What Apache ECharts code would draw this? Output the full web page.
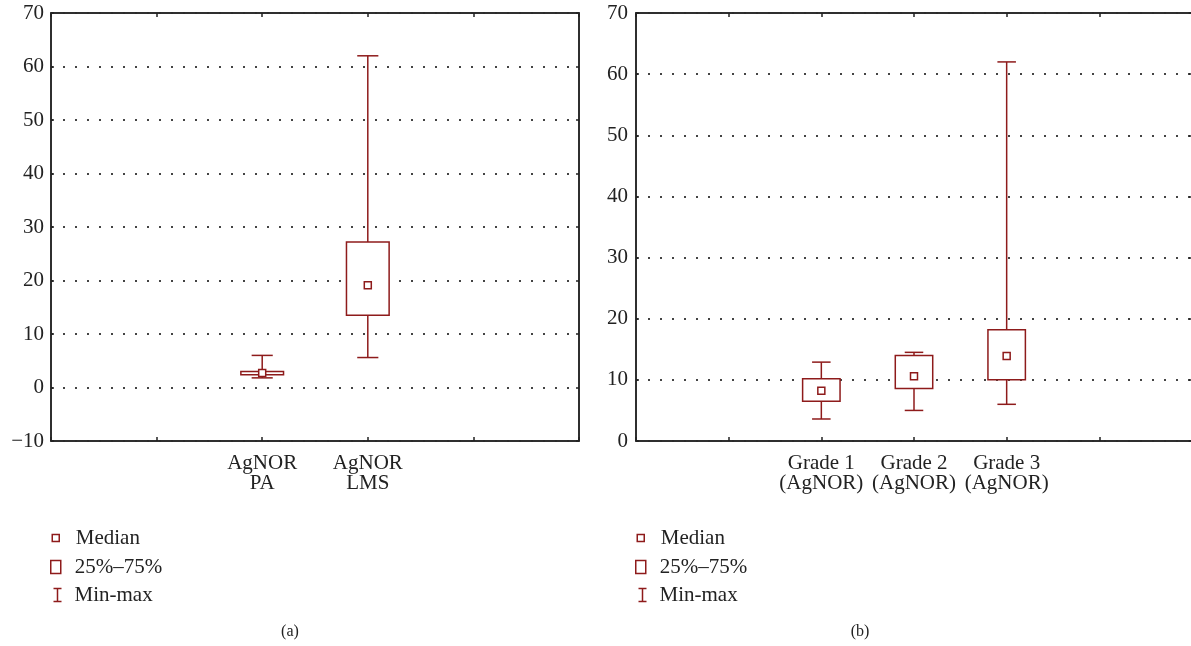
<!DOCTYPE html>
<html><head><meta charset="utf-8">
<script src="https://cdn.jsdelivr.net/npm/echarts@6/dist/echarts.min.js"></script>
<style>html,body{margin:0;padding:0;background:#fff}#c{width:1191px;height:646px}</style>
</head><body><div id="c"></div>
<script>
// ---- data (a) ----
const catsA = ['AgNOR\nPA', 'AgNOR\nLMS'];
const minA = [1.8, 5.6];
const q1A  = [2.4, 13.5];
const medA = [2.7, 19.1];
const q3A  = [3.0, 27.2];
const maxA = [6.0, 62.0];
// ---- data (b) ----
const catsB = ['Grade 1\n(AgNOR)', 'Grade 2\n(AgNOR)', 'Grade 3\n(AgNOR)'];
const minB = [3.6, 5.0, 6.0];
const q1B  = [6.5, 8.6, 10.0];
const medB = [8.2, 10.6, 13.9];
const q3B  = [10.2, 14.0, 18.2];
const maxB = [12.9, 14.5, 62.0];
// ---- axes ----
const yAxisA = {min: -10, max: 70, interval: 10};
const yAxisB = {min: 0, max: 70, interval: 10};
const legendNames = ['Median', '25%\u201375%', 'Min-max'];
const captions = ['(a)', '(b)'];

const RED = '#8e1b1b';
const INK = '#222';
const FONT = 'Liberation Serif';
const FS = 21;
const PAD = 2;

const padCats = c => ['', ''].concat(c, ['', '']);

function whiskerItem(params, api) {
  const x = api.value(0);
  const lo = api.coord([x, api.value(1)]);
  const hi = api.coord([x, api.value(2)]);
  const step = api.size([0, 0])[0];
  const cw = step * 0.2;
  const st = {stroke: RED, lineWidth: 1.5, fill: null};
  return {type: 'group', children: [
    {type: 'line', shape: {x1: lo[0], y1: lo[1], x2: hi[0], y2: hi[1]}, style: st},
    {type: 'line', shape: {x1: lo[0] - cw / 2, y1: lo[1], x2: lo[0] + cw / 2, y2: lo[1]}, style: st},
    {type: 'line', shape: {x1: hi[0] - cw / 2, y1: hi[1], x2: hi[0] + cw / 2, y2: hi[1]}, style: st}
  ]};
}
function boxItem(params, api) {
  const x = api.value(0);
  const bot = api.coord([x, api.value(1)]);
  const top = api.coord([x, api.value(2)]);
  const step = api.size([0, 0])[0];
  const bw = step * 0.404;
  return {type: 'rect', shape: {x: top[0] - bw / 2, y: top[1], width: bw, height: bot[1] - top[1]},
    style: {fill: '#fff', stroke: RED, lineWidth: 1.5}};
}

function seriesFor(idx, cats, mn, q1, md, q3, mx) {
  return [
    {name: legendNames[2], type: 'custom', xAxisIndex: idx * 2, yAxisIndex: idx * 2, z: 2,
      renderItem: whiskerItem, encode: {x: 0, y: [1, 2]},
      data: cats.map((c, i) => [i + PAD, mn[i], mx[i]])},
    {name: legendNames[1], type: 'custom', xAxisIndex: idx * 2, yAxisIndex: idx * 2, z: 3,
      renderItem: boxItem, encode: {x: 0, y: [1, 2]},
      data: cats.map((c, i) => [i + PAD, q1[i], q3[i]])},
    {name: legendNames[0], type: 'scatter', xAxisIndex: idx * 2, yAxisIndex: idx * 2, z: 4,
      symbol: 'rect', symbolSize: 7, silent: true,
      itemStyle: {color: '#fff', borderColor: RED, borderWidth: 1.5, opacity: 1},
      data: cats.map((c, i) => [i + PAD, md[i]])}
  ];
}

function xAxes(gi, cats) {
  const base = {type: 'category', gridIndex: gi, data: padCats(cats), boundaryGap: false,
    axisLine: {show: true, onZero: false, lineStyle: {color: INK, width: 1.5}},
    axisTick: {show: true, inside: true, length: 4, interval: 0, lineStyle: {color: INK, width: 1.5}},
    splitLine: {show: false}};
  return [
    Object.assign({}, base, {position: 'bottom',
      axisLabel: {interval: 0, fontFamily: FONT, fontSize: FS, lineHeight: 20, color: INK, margin: 12}}),
    Object.assign({}, base, {position: 'top', axisLabel: {show: false}})
  ];
}
function yAxes(gi, ext, margin) {
  const base = Object.assign({type: 'value', gridIndex: gi,
    axisLine: {show: true, onZero: false, lineStyle: {color: INK, width: 1.5}},
    axisTick: {show: true, inside: true, length: 3, lineStyle: {color: INK, width: 1.5}}}, ext);
  return [
    Object.assign({}, base, {position: 'left',
      axisLabel: {fontFamily: FONT, fontSize: FS, color: INK, margin: margin,
        formatter: v => String(v).replace('-', '\u2212')},
      splitLine: {show: true, lineStyle: {color: '#444', width: 2, type: [2, 10]}}}),
    Object.assign({}, base, {position: 'right', axisLabel: {show: false}, splitLine: {show: false}})
  ];
}

const icons = [
  {icon: 'path://M0,0L7,0L7,7L0,7Z', w: 7, h: 7, style: {color: '#fff', borderColor: RED, borderWidth: 1.5}},
  {icon: 'path://M0,0L10,0L10,13L0,13Z', w: 10, h: 13, style: {color: '#fff', borderColor: RED, borderWidth: 1.5}},
  {icon: 'path://M0,0L8,0M4,0L4,13M0,13L8,13', w: 8, h: 13, style: {color: 'none', borderColor: RED, borderWidth: 1.5}}
];
const rowY = [538, 567, 595];
const iconCX = [55, 640];
const textX = [75, 660];
const textNudge = [0, -1, -3];
const legends = [];
iconCX.forEach((cx, k) => {
  legendNames.forEach((n, i) => {
    const w = icons[i].w;
    const lx = cx - w / 2;
    const gap = textX[k] - (lx + w) - 5 + textNudge[i];
    legends.push({
      left: lx, top: rowY[i] - 11, padding: 0, itemWidth: w, itemHeight: icons[i].h,
      selectedMode: false,
      textStyle: {fontFamily: FONT, fontSize: FS, color: INK, lineHeight: 22, padding: [0, 0, 0, gap]},
      data: [{name: n, icon: icons[i].icon, itemStyle: icons[i].style}]
    });
  });
});

const chart = echarts.init(document.getElementById('c'), null, {renderer: 'canvas'});
chart.setOption({
  backgroundColor: '#fff',
  animation: false,
  grid: [
    {left: 51, top: 13, width: 528, height: 428, outerBoundsMode: 'none', show: true, borderColor: INK, borderWidth: 1.5, backgroundColor: 'transparent'},
    {left: 636, top: 13, width: 556, height: 428, outerBoundsMode: 'none', show: true, borderColor: INK, borderWidth: 1.5, backgroundColor: 'transparent'}
  ],
  xAxis: xAxes(0, catsA).concat(xAxes(1, catsB)),
  yAxis: yAxes(0, yAxisA, 7).concat(yAxes(1, yAxisB, 8)),
  legend: legends,
  series: seriesFor(0, catsA, minA, q1A, medA, q3A, maxA).concat(seriesFor(1, catsB, minB, q1B, medB, q3B, maxB)),
  graphic: [
    {type: 'text', x: 290, y: 632, style: {text: captions[0], fontFamily: FONT, fontSize: 16, fill: INK, textAlign: 'center', textVerticalAlign: 'middle'}},
    {type: 'text', x: 860, y: 632, style: {text: captions[1], fontFamily: FONT, fontSize: 16, fill: INK, textAlign: 'center', textVerticalAlign: 'middle'}}
  ]
});
</script></body></html>
